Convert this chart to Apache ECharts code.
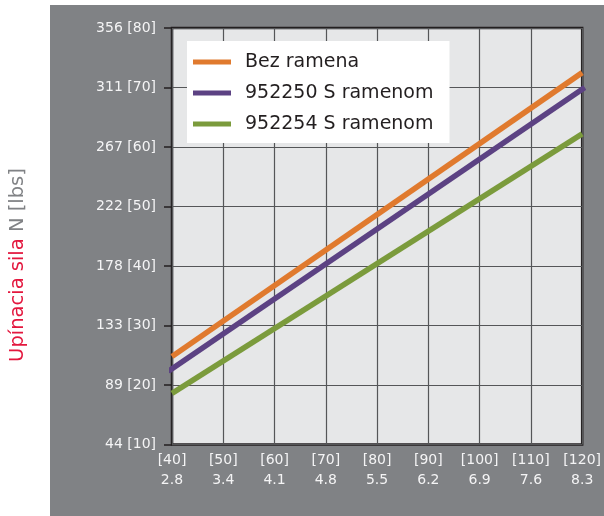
<!DOCTYPE html>
<html>
<head>
<meta charset="utf-8">
<script src="https://cdn.jsdelivr.net/npm/echarts@6/dist/echarts.min.js"></script>
<style>
  html, body { margin: 0; padding: 0; background: #ffffff; }
  #chart { width: 604px; height: 516px; }
</style>
</head>
<body>
<div id="chart"></div>
<script>
// Clamping force vs. setting; x in [bar-like units] with a second scale below
const xValues = [40, 50, 60, 70, 80, 90, 100, 110, 120];
const xTopLabels = ['[40]', '[50]', '[60]', '[70]', '[80]', '[90]', '[100]', '[110]', '[120]'];
const xBottomLabels = ['2.8', '3.4', '4.1', '4.8', '5.5', '6.2', '6.9', '7.6', '8.3'];

const yValues = [10, 20, 30, 40, 50, 60, 70, 80];
const yTickLabels = ['44 [10]', '89 [20]', '133 [30]', '178 [40]', '222 [50]', '267 [60]', '311 [70]', '356 [80]'];

const seriesNames = ['Bez ramena', '952250 S ramenom', '952254 S ramenom'];
const bezRamena = [[40, 24.8], [120, 72.5]];
const ramenom952250 = [[39.3, 22.3], [120.5, 70.0]];
const ramenom952254 = [[40, 18.6], [120, 62.2]];

const colors = ['#e07a2e', '#5c4283', '#7b9b3c'];
const FONT = 'DejaVu Sans';

const chart = echarts.init(document.getElementById('chart'), null, { renderer: 'canvas' });

const yLabelMap = {};
yValues.forEach((v, i) => { yLabelMap[v] = yTickLabels[i]; });
const xLabelMap = {};
xValues.forEach((v, i) => { xLabelMap[v] = xTopLabels[i] + '\n' + xBottomLabels[i]; });

const lineSeries = (name, data, color) => ({
  name,
  type: 'line',
  data,
  showSymbol: false,
  symbol: 'none',
  clip: false,
  lineStyle: { color, width: 5.5, cap: 'butt' },
  itemStyle: { color },
  emphasis: { disabled: true }
});

chart.setOption({
  animation: false,
  backgroundColor: '#ffffff',
  textStyle: { fontFamily: FONT },
  graphic: [
    {
      type: 'rect',
      z: -10,
      silent: true,
      shape: { x: 50, y: 5, width: 554, height: 511 },
      style: { fill: '#808285' }
    },
    {
      type: 'text',
      silent: true,
      x: 18,
      y: 265,
      rotation: Math.PI / 2,
      style: {
        text: '{a|Upínacia sila} {b|N [lbs]}',
        align: 'center',
        verticalAlign: 'middle',
        font: '19.5px ' + FONT,
        rich: {
          a: { fill: '#e3173e', font: '19.5px ' + FONT },
          b: { fill: '#808285', font: '19.5px ' + FONT }
        }
      }
    }
  ],
  grid: {
    left: 172,
    right: 16,
    top: 28,
    bottom: 71.5,
    show: true,
    backgroundColor: '#e6e7e8',
    borderColor: '#231f20',
    borderWidth: 2.5
  },
  legend: {
    orient: 'vertical',
    left: 187,
    top: 41,
    backgroundColor: '#ffffff',
    padding: [10, 16, 8, 6],
    itemWidth: 38,
    itemHeight: 5,
    itemGap: 9,
    icon: 'rect',
    data: seriesNames,
    textStyle: {
      fontFamily: FONT,
      fontSize: 19,
      color: '#231f20',
      lineHeight: 22,
      padding: [0, 0, 0, 9]
    }
  },
  xAxis: {
    type: 'value',
    min: 40,
    max: 120,
    interval: 10,
    axisLine: { show: false },
    axisTick: { show: false },
    splitLine: { show: true, lineStyle: { color: '#555658', width: 1.2 } },
    axisLabel: {
      color: '#f4f4f5',
      fontFamily: FONT,
      fontSize: 14,
      lineHeight: 20,
      margin: 6,
      formatter: v => xLabelMap[v] || ''
    }
  },
  yAxis: {
    type: 'value',
    min: 10,
    max: 80,
    interval: 10,
    axisLine: { show: false },
    axisTick: { show: true, length: 8, lineStyle: { color: '#231f20', width: 1.5 } },
    splitLine: { show: true, lineStyle: { color: '#555658', width: 1.2 } },
    axisLabel: {
      color: '#f4f4f5',
      fontFamily: FONT,
      fontSize: 14,
      margin: 16,
      formatter: v => yLabelMap[v] || ''
    }
  },
  series: [
    lineSeries(seriesNames[0], bezRamena, colors[0]),
    lineSeries(seriesNames[1], ramenom952250, colors[1]),
    lineSeries(seriesNames[2], ramenom952254, colors[2])
  ]
});
</script>
</body>
</html>
